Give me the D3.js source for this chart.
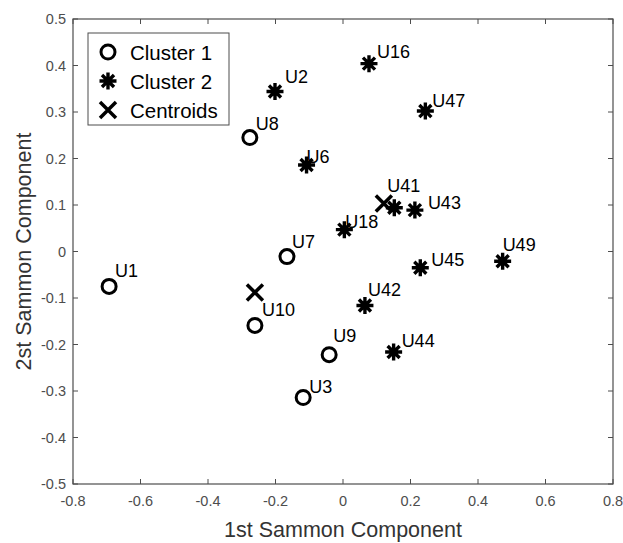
<!DOCTYPE html>
<html>
<head>
<meta charset="utf-8">
<script src="https://cdn.jsdelivr.net/npm/d3@7"></script>
<style>
  body { margin: 0; background: #fff; }
  text { font-family: "Liberation Sans", Arial, sans-serif; }
</style>
</head>
<body>
<div id="chart"></div>
<script>
// cluster 1 (circles)
const c1Labels = ['U1', 'U8', 'U7', 'U10', 'U9', 'U3']
const c1X = [-0.693, -0.276, -0.166, -0.261, -0.041, -0.118]
const c1Y = [-0.075, 0.245, -0.011, -0.159, -0.222, -0.314]
// cluster 2 (asterisks)
const c2Labels = ['U2', 'U16', 'U47', 'U6', 'U41', 'U43', 'U18', 'U45', 'U49', 'U42', 'U44']
const c2X = [-0.2015, 0.077, 0.244, -0.108, 0.152, 0.213, 0.004, 0.229, 0.473, 0.065, 0.150]
const c2Y = [0.344, 0.404, 0.302, 0.186, 0.094, 0.089, 0.047, -0.035, -0.021, -0.116, -0.216]
// centroids
const centX = [-0.261, 0.121]
const centY = [-0.088, 0.103]

const xTicks = [-0.8, -0.6, -0.4, -0.2, 0, 0.2, 0.4, 0.6, 0.8]
const yTicks = [-0.5, -0.4, -0.3, -0.2, -0.1, 0, 0.1, 0.2, 0.3, 0.4, 0.5]
const legendNames = ['Cluster 1', 'Cluster 2', 'Centroids']

// label nudges in pixels (layout only)
const nudge = {
  U1: [6, -9], U8: [6, -8], U7: [5, -9], U10: [7, -9], U9: [4, -13], U3: [6, -5],
  U2: [10, -9], U16: [8, -6], U47: [7, -4], U6: [0, -2], U41: [-7, -16], U43: [13, -1],
  U18: [1, -2], U45: [11, -2], U49: [0, -10], U42: [3, -9], U44: [8, -5]
}

const W = 623, H = 543
const m = {left: 73, right: 10, top: 19, bottom: 59}
const axisCol = '#4d4d4d'

const svg = d3.select('#chart').append('svg').attr('width', W).attr('height', H)

const x = d3.scaleLinear().domain([-0.8, 0.8]).range([m.left, W - m.right])
const y = d3.scaleLinear().domain([-0.5, 0.5]).range([H - m.bottom, m.top])

// markers
function circleMark(g) {
  g.append('circle').attr('r', 7).attr('fill', 'none').attr('stroke', '#000').attr('stroke-width', 3)
}
function starMark(g) {
  const r = 8.5, d = r * Math.SQRT1_2
  g.append('path')
    .attr('d', `M${-r},0L${r},0M0,${-r}L0,${r}M${-d},${-d}L${d},${d}M${-d},${d}L${d},${-d}`)
    .attr('stroke', '#000').attr('stroke-width', 3.4).attr('fill', 'none')
  g.append('circle').attr('r', 4).attr('fill', '#000')
}
function crossMark(g) {
  const r = 8
  g.append('path')
    .attr('d', `M${-r},${-r}L${r},${r}M${-r},${r}L${r},${-r}`)
    .attr('stroke', '#000').attr('stroke-width', 3.5).attr('fill', 'none')
}

const plot = svg.append('g')

const c1 = c1X.map((v, i) => ({x: v, y: c1Y[i], label: c1Labels[i]}))
const c2 = c2X.map((v, i) => ({x: v, y: c2Y[i], label: c2Labels[i]}))
const cent = centX.map((v, i) => ({x: v, y: centY[i]}))

plot.selectAll('g.c1').data(c1).enter().append('g').attr('class', 'c1')
  .attr('transform', d => `translate(${x(d.x)},${y(d.y)})`)
  .each(function () { circleMark(d3.select(this)) })
plot.selectAll('g.c2').data(c2).enter().append('g').attr('class', 'c2')
  .attr('transform', d => `translate(${x(d.x)},${y(d.y)})`)
  .each(function () { starMark(d3.select(this)) })
plot.selectAll('g.cent').data(cent).enter().append('g').attr('class', 'cent')
  .attr('transform', d => `translate(${x(d.x)},${y(d.y)})`)
  .each(function () { crossMark(d3.select(this)) })

plot.selectAll('text.lab').data(c1.concat(c2)).enter().append('text')
  .attr('class', 'lab')
  .attr('x', d => x(d.x) + nudge[d.label][0])
  .attr('y', d => y(d.y) + nudge[d.label][1])
  .attr('font-size', 18)
  .attr('fill', '#000')
  .text(d => d.label)

// axes frame
const x0 = m.left, x1 = W - m.right, y0 = H - m.bottom, y1 = m.top
svg.append('rect').attr('x', x0).attr('y', y1).attr('width', x1 - x0).attr('height', y0 - y1)
  .attr('fill', 'none').attr('stroke', axisCol).attr('stroke-width', 1.2)

const tk = 5
const ax = svg.append('g').attr('stroke', axisCol).attr('stroke-width', 1)
xTicks.forEach(t => {
  ax.append('line').attr('x1', x(t)).attr('x2', x(t)).attr('y1', y0).attr('y2', y0 - tk)
  ax.append('line').attr('x1', x(t)).attr('x2', x(t)).attr('y1', y1).attr('y2', y1 + tk)
})
yTicks.forEach(t => {
  ax.append('line').attr('y1', y(t)).attr('y2', y(t)).attr('x1', x0).attr('x2', x0 + tk)
  ax.append('line').attr('y1', y(t)).attr('y2', y(t)).attr('x1', x1).attr('x2', x1 - tk)
})

const fmt = d => String(d)
svg.selectAll('text.xt').data(xTicks).enter().append('text')
  .attr('x', d => x(d)).attr('y', y0 + 22)
  .attr('text-anchor', 'middle').attr('font-size', 14.5).attr('fill', axisCol)
  .text(d => fmt(d))
svg.selectAll('text.yt').data(yTicks).enter().append('text')
  .attr('x', x0 - 7).attr('y', d => y(d) + 5)
  .attr('text-anchor', 'end').attr('font-size', 14.5).attr('fill', axisCol)
  .text(d => fmt(d))

svg.append('text').attr('x', (x0 + x1) / 2).attr('y', 537)
  .attr('text-anchor', 'middle').attr('font-size', 21.5).attr('fill', '#333')
  .text('1st Sammon Component')
svg.append('text').attr('transform', `translate(31,${(y0 + y1) / 2}) rotate(-90)`)
  .attr('text-anchor', 'middle').attr('font-size', 21.5).attr('fill', '#333')
  .text('2st Sammon Component')

// legend
const lg = svg.append('g').attr('transform', 'translate(88,33)')
lg.append('rect').attr('width', 141).attr('height', 92)
  .attr('fill', '#fff').attr('stroke', axisCol).attr('stroke-width', 1)
const marks = [circleMark, starMark, crossMark]
legendNames.forEach((n, i) => {
  const row = lg.append('g').attr('transform', `translate(20,${19 + i * 29})`)
  marks[i](row)
  row.append('text').attr('x', 22).attr('y', 7.5).attr('font-size', 20.5).attr('fill', '#000').text(n)
})
</script>
</body>
</html>
